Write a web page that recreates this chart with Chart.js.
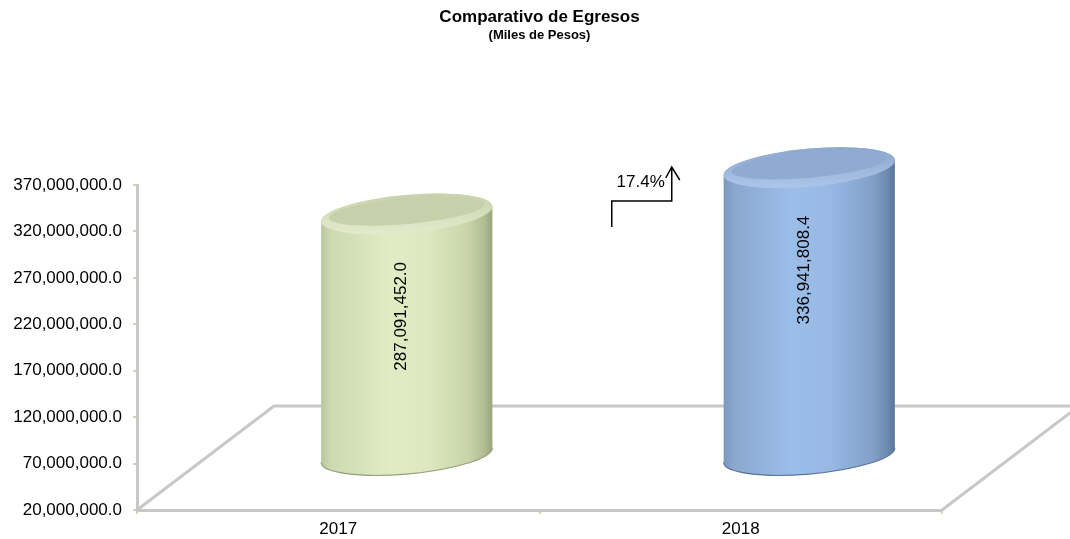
<!DOCTYPE html>
<html>
<head>
<meta charset="utf-8">
<title>Comparativo de Egresos</title>
<script src="https://cdn.jsdelivr.net/npm/chart.js@4.4.1/dist/chart.umd.min.js"></script>
<style>
  body { margin: 0; background: #fff; }
</style>
</head>
<body>
<canvas id="egresos" width="1070" height="539"></canvas>
<script>
// data
const years = ['2017', '2018']
const egresos = [287091452.0, 336941808.4]
const yMin = 20000000
const yMax = 370000000
const yStep = 50000000

const cylColors = [
  {
    side: [[0, '#bac69c'], [0.06, '#cdd9b1'], [0.4, '#e1ecc5'], [0.62, '#dde8c0'], [0.86, '#c8d4a8'], [0.95, '#b0bc91'], [1, '#98a47a']],
    topOuter: ['#c8d2ad', '#e2eacd'],
    topInner: '#c6d0ab',
    edge: '#949f78',
  },
  {
    side: [[0, '#7c97bf'], [0.06, '#8ba7cf'], [0.4, '#9bbee9'], [0.62, '#97b9e4'], [0.86, '#83a1ca'], [0.95, '#6f8bb2'], [1, '#5b7499']],
    topOuter: ['#8ea8ce', '#abc5e8'],
    topInner: '#90abd1',
    edge: '#5a7398',
  },
]

const fmt = (v) => v.toLocaleString('en-US', { minimumFractionDigits: 1, maximumFractionDigits: 1 })
const font = 'Liberation Sans, Arial, sans-serif'

// depth of the 3d floor
const depthX = 137
const depthY = -104

function drawCylinder(ctx, cx, yTop, yBot, a, b, th, c) {
  const t0 = Math.atan2(-b * Math.sin(th), a * Math.cos(th))

  const g = ctx.createLinearGradient(cx - a, 0, cx + a, 0)
  c.side.forEach((s) => g.addColorStop(s[0], s[1]))
  ctx.beginPath()
  ctx.ellipse(cx, yBot, a, b, th, t0, t0 + Math.PI)
  ctx.ellipse(cx, yTop, a, b, th, t0 + Math.PI, t0 + 2 * Math.PI)
  ctx.closePath()
  ctx.fillStyle = g
  ctx.fill()

  ctx.beginPath()
  ctx.ellipse(cx, yBot, a, b, th, t0, t0 + Math.PI)
  ctx.strokeStyle = c.edge
  ctx.lineWidth = 1.2
  ctx.stroke()

  // top face
  const tg = ctx.createLinearGradient(0, yTop - b, 0, yTop + b)
  tg.addColorStop(0, c.topOuter[0])
  tg.addColorStop(1, c.topOuter[1])
  ctx.beginPath()
  ctx.ellipse(cx, yTop, a, b, th, 0, 2 * Math.PI)
  ctx.fillStyle = tg
  ctx.fill()
  ctx.beginPath()
  ctx.ellipse(cx, yTop - 3, a - 8, b - 6, th, 0, 2 * Math.PI)
  ctx.fillStyle = c.topInner
  ctx.fill()
}

const cylinderPlugin = {
  id: 'cylinders',
  beforeDatasetsDraw(chart) {
    const ctx = chart.ctx
    const area = chart.chartArea
    // floor of the 3d box
    ctx.save()
    ctx.strokeStyle = '#c8c8c8'
    ctx.lineWidth = 3
    ctx.beginPath()
    ctx.moveTo(area.left, area.bottom)
    ctx.lineTo(area.left + depthX, area.bottom + depthY)
    ctx.lineTo(area.right + depthX, area.bottom + depthY)
    ctx.lineTo(area.right, area.bottom)
    ctx.stroke()
    ctx.restore()
  },
  afterDatasetsDraw(chart) {
    const ctx = chart.ctx
    const yScale = chart.scales.y
    const meta = chart.getDatasetMeta(0)
    ctx.save()
    meta.data.forEach((bar, i) => {
      const cx = bar.x + depthX / 2
      const yTop = bar.y + depthY / 2 + 4
      const yBot = yScale.getPixelForValue(yMin) + depthY / 2 - 3
      drawCylinder(ctx, cx, yTop, yBot, bar.width / 2, 19, -0.09, cylColors[i])

      // value label
      ctx.save()
      ctx.translate(cx - 5, bar.y + depthY / 2 + 52)
      ctx.rotate(-Math.PI / 2)
      ctx.fillStyle = '#000'
      ctx.font = '17px ' + font
      ctx.textAlign = 'right'
      ctx.textBaseline = 'middle'
      ctx.fillText(fmt(egresos[i]), 0, 0)
      ctx.restore()
    })
    ctx.restore()
  },
  afterDraw(chart) {
    // growth arrow
    const ctx = chart.ctx
    const area = chart.chartArea
    const bar = chart.getDatasetMeta(0).data[1]
    const x1 = bar.x - 129
    const x2 = bar.x - 69
    const yLow = area.top + 42
    const yStepLine = area.top + 16
    const yTip = area.top - 18
    const pct = ((egresos[1] / egresos[0] - 1) * 100).toFixed(1) + '%'

    ctx.save()
    ctx.strokeStyle = '#000'
    ctx.lineWidth = 1.5
    ctx.beginPath()
    ctx.moveTo(x1, yLow)
    ctx.lineTo(x1, yStepLine)
    ctx.lineTo(x2, yStepLine)
    ctx.lineTo(x2, yTip)
    ctx.moveTo(x2 - 6, yTip + 11)
    ctx.lineTo(x2, yTip)
    ctx.lineTo(x2 + 8, yTip + 13)
    ctx.stroke()
    ctx.fillStyle = '#000'
    ctx.font = '17px ' + font
    ctx.textAlign = 'right'
    ctx.textBaseline = 'middle'
    ctx.fillText(pct, x2 - 7, yTip + 15)
    ctx.restore()
  },
}

const ctx = document.getElementById('egresos').getContext('2d')

new Chart(ctx, {
  type: 'bar',
  data: {
    labels: years,
    datasets: [
      {
        data: egresos,
        backgroundColor: 'rgba(0,0,0,0)',
        borderWidth: 0,
        barPercentage: 0.427,
        categoryPercentage: 1,
      },
    ],
  },
  options: {
    responsive: false,
    animation: false,
    layout: {
      padding: { left: 0, right: 128, top: 0, bottom: 0 },
    },
    scales: {
      x: {
        afterFit(scale) {
          scale.height = 29
        },
        grid: {
          drawOnChartArea: false,
          tickLength: 4,
          color: '#d0d6b8',
          lineWidth: 2,
        },
        border: { color: '#c8c8c8', width: 3 },
        ticks: {
          color: '#000',
          padding: 5,
          font: { family: font, size: 17 },
        },
      },
      y: {
        min: yMin,
        max: yMax,
        afterFit(scale) {
          scale.width = 137
        },
        grid: {
          drawOnChartArea: false,
          tickLength: 4,
          color: '#cdd4b4',
          lineWidth: 2,
        },
        border: { color: '#c8c8c8', width: 3 },
        ticks: {
          stepSize: yStep,
          color: '#000',
          padding: 11,
          font: { family: font, size: 17 },
          callback: (v) => fmt(v),
        },
      },
    },
    plugins: {
      legend: { display: false },
      tooltip: { enabled: false },
      title: {
        display: true,
        text: 'Comparativo de Egresos',
        fullSize: false,
        color: '#000',
        font: { family: font, size: 17, weight: 'bold' },
        padding: { top: 7, bottom: 0 },
      },
      subtitle: {
        display: true,
        text: '(Miles de Pesos)',
        fullSize: false,
        color: '#000',
        font: { family: font, size: 13, weight: 'bold' },
        padding: { top: 0, bottom: 142 },
      },
    },
  },
  plugins: [cylinderPlugin],
})
</script>
</body>
</html>
